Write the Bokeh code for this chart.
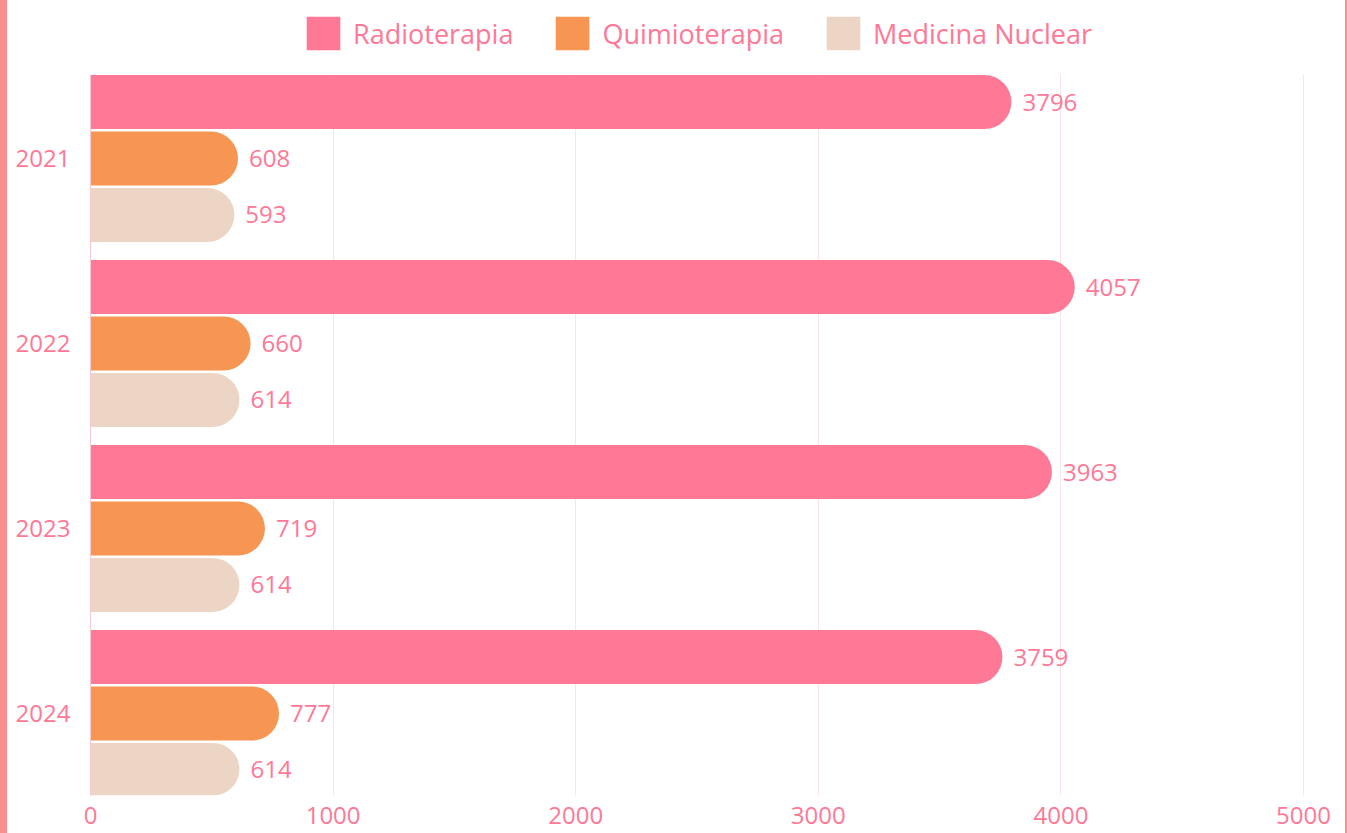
from bokeh.plotting import figure
from bokeh.layouts import column, row
from bokeh.models import ColumnDataSource, Range1d, Legend, LegendItem, FixedTicker, Div
from bokeh.transform import dodge
from bokeh.core.properties import value
from bokeh.embed import file_html
from bokeh.resources import INLINE

years = ["2021", "2022", "2023", "2024"]
series = ["Radioterapia", "Quimioterapia", "Medicina Nuclear"]
radioterapia = [3796, 4057, 3963, 3759]
quimioterapia = [608, 660, 719, 777]
medicina_nuclear = [593, 614, 614, 614]
x_ticks = [0, 1000, 2000, 3000, 4000, 5000]

colors = ["#FF7896", "#F79552", "#EDD5C6"]
text_color = "#FF7896"
edge_color = "#F98E8E"
FONT = "Open Sans"
W = 1338

ypos = list(range(len(years)))
src = ColumnDataSource(dict(
    y=ypos,
    r=radioterapia, q=quimioterapia, m=medicina_nuclear,
    rl=[str(v) for v in radioterapia],
    ql=[str(v) for v in quimioterapia],
    ml=[str(v) for v in medicina_nuclear],
))

# ---- legend strip ----
lg = figure(width=W, height=73, output_backend="svg", toolbar_location=None,
            x_axis_type=None, y_axis_type=None,
            min_border_left=83, min_border_right=41, min_border_top=0, min_border_bottom=0)
lg.outline_line_color = None
lg.xgrid.visible = False
lg.ygrid.visible = False
legend_rs = []
for c in colors:
    lr = lg.quad(left=[0], right=[0], top=[0], bottom=[0], fill_color=c, line_color=None)
    legend_rs.append(lr)
legend = Legend(items=[LegendItem(label=s, renderers=[lr]) for s, lr in zip(series, legend_rs)],
                orientation="horizontal", location="top_center",
                glyph_width=42, glyph_height=42, label_standoff=9, spacing=38,
                padding=0, margin=12, border_line_color=None, background_fill_alpha=0,
                label_text_font=FONT, label_text_font_size="27px", label_text_color=text_color)
lg.add_layout(legend, "center")

# ---- main chart ----
p = figure(width=W, height=760, output_backend="svg", toolbar_location=None,
           x_range=Range1d(0, 5004), y_range=Range1d(3.443, -0.454),
           min_border_left=83, min_border_right=22, min_border_bottom=38, min_border_top=1)
p.outline_line_color = None
p.background_fill_color = "white"

offsets = [-0.305, 0.0, 0.305]
fields = ["r", "q", "m"]
labels = ["rl", "ql", "ml"]
for f, lab, off, c in zip(fields, labels, offsets, colors):
    p.hbar(y=dodge("y", off), left=0, right=f, height=0.292, source=src,
           fill_color=c, line_color=None, border_radius=(0, 27, 27, 0))
    p.text(x=f, y=dodge("y", off), text=lab, source=src, x_offset=11,
           text_baseline="middle", text_align="left", text_color=text_color,
           text_font=value(FONT), text_font_size="24px")

p.xaxis.ticker = FixedTicker(ticks=x_ticks)
p.yaxis.ticker = FixedTicker(ticks=ypos)
p.yaxis.major_label_overrides = {i: y for i, y in enumerate(years)}
for ax in (p.xaxis, p.yaxis):
    ax.major_label_text_font = FONT
    ax.major_label_text_font_size = "24px"
    ax.major_label_text_color = text_color
    ax.major_tick_line_color = None
    ax.minor_tick_line_color = None
p.xaxis.axis_line_color = None
p.yaxis.axis_line_color = "#F9C8D4"
p.yaxis.major_label_standoff = 14
p.xaxis.major_label_standoff = 5
p.xgrid.grid_line_color = "#FBE3EC"
p.xgrid.ticker = FixedTicker(ticks=x_ticks[1:])
p.ygrid.grid_line_color = None

band = Div(width=7, height=833, margin=0, styles={"background-color": edge_color})
edge = Div(width=2, height=833, margin=0, styles={"background-color": edge_color})
layout = row(band, column(lg, p, spacing=0), edge, spacing=0)
open("out.html", "w").write(file_html(layout, INLINE))
